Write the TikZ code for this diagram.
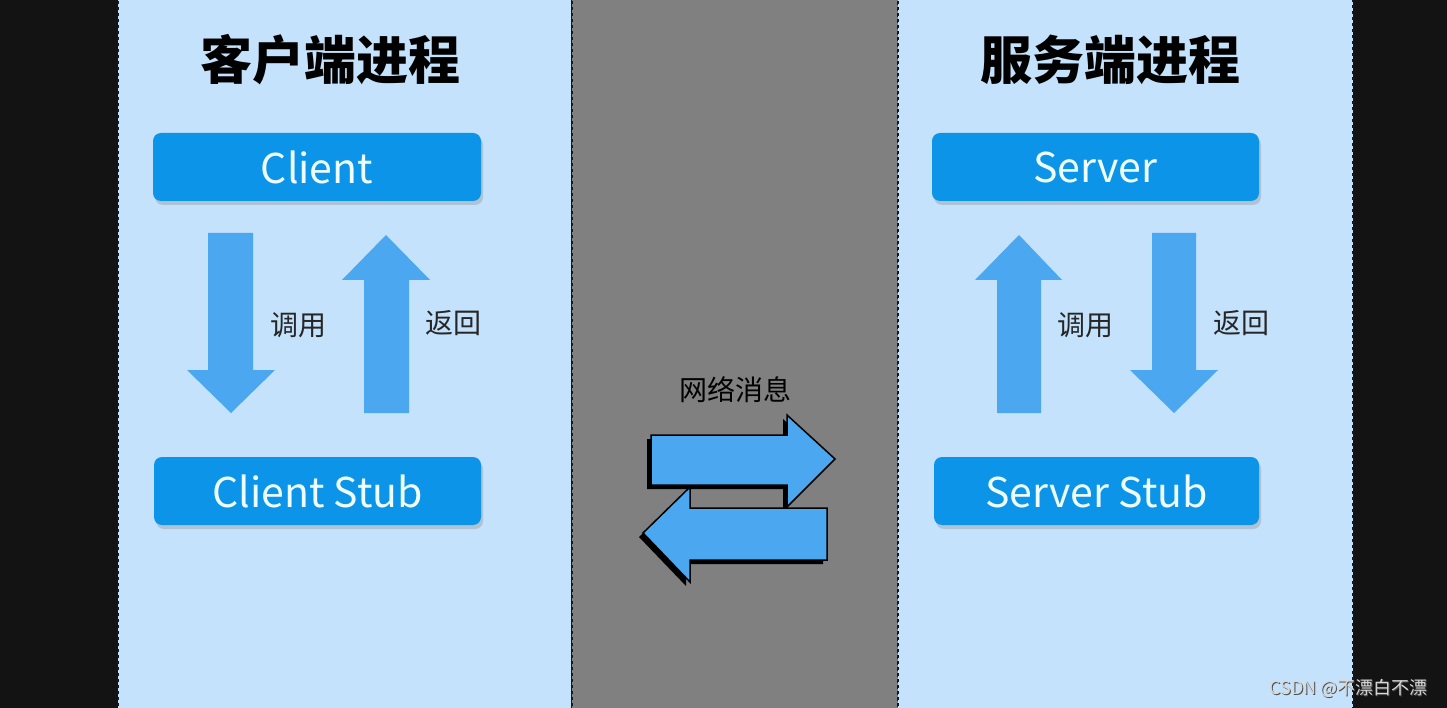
\documentclass[tikz,border=0pt]{standalone}
\usepackage{fontspec}
\setmainfont{Noto Sans CJK SC}
\definecolor{bgblack}{HTML}{131313}
\definecolor{panelblue}{HTML}{C4E2FB}
\definecolor{midgray}{HTML}{808080}
\definecolor{boxblue}{HTML}{0B94E8}
\definecolor{arrowblue}{HTML}{4AA7F0}
\definecolor{boxtext}{HTML}{EFFFFF}
\definecolor{wmark}{HTML}{D8D8D8}
\tikzset{
  panel/.style={draw=black!90, dashed, line width=1.6pt},
  procbox/.style={rectangle, rounded corners=8pt, fill=boxblue, text=boxtext,
    minimum width=328pt, minimum height=68pt, inner sep=0pt,
    font=\fontsize{41}{41}\selectfont},
  boxshadow/.style={fill=black!45, opacity=0.35, rounded corners=8pt},
  title/.style={font=\fontsize{52}{52}\selectfont\bfseries, text=black},
  lbl/.style={font=\fontsize{28}{28}\selectfont, text=black!85},
  fatarrow/.style={fill=arrowblue},
  netarrow/.style={fill=arrowblue, draw=black, line width=1.5pt, line join=miter},
  netshadow/.style={fill=black},
  wmtext/.style={font=\fontsize{18}{18}\selectfont, anchor=east},
}
\begin{document}
\begin{tikzpicture}[x=1pt, y=-1pt]
\useasboundingbox (0,0) rectangle (1447,708);
\fill[bgblack] (0,0) rectangle (1447,708);
% panels
\filldraw[fill=panelblue, panel] (118,-5) rectangle (572,713);
\filldraw[fill=midgray, panel] (572,-5) rectangle (898,713);
\filldraw[fill=panelblue, panel] (898,-5) rectangle (1353,713);

% titles
\node[title] (ctitle) at (330,60) {客户端进程};
\node[title] (stitle) at (1110,60) {服务端进程};

% box shadows
\fill[boxshadow] (155,137) rectangle (483,205);
\fill[boxshadow] (156,461) rectangle (483,529);
\fill[boxshadow] (934,137) rectangle (1261,205);
\fill[boxshadow] (936,461) rectangle (1261,529);

% boxes
\node[procbox] (client) at (317,167) {Client};
\node[procbox, minimum width=327pt] (cstub) at (317.5,491) {Client Stub};
\node[procbox, minimum width=327pt] (server) at (1095.5,167) {Server};
\node[procbox, minimum width=325pt] (sstub) at (1096.5,491) {Server Stub};

% left arrows
\fill[fatarrow] (208,233)--(253,233)--(253,370)--(275,370)--(231,413)--(187,370)--(208,370)--cycle;
\fill[fatarrow] (364,413)--(409,413)--(409,280)--(430,280)--(386,235)--(342,280)--(364,280)--cycle;
\node[lbl] (lcall) at (298,325) {调用};
\node[lbl] (lret) at (453,323) {返回};

% right arrows
\fill[fatarrow] (997,413)--(1041,413)--(1041,280)--(1062,280)--(1019,235)--(975,280)--(997,280)--cycle;
\fill[fatarrow] (1152,233)--(1196,233)--(1196,370)--(1218,370)--(1174,413)--(1130,370)--(1152,370)--cycle;
\node[lbl] (rcall) at (1085,325) {调用};
\node[lbl] (rret) at (1241,323) {返回};

% network
\node[lbl, text=black] (net) at (735,390) {网络消息};
\begin{scope}[shift={(-4,4)}]
\fill[netshadow] (651,435)--(787,435)--(787,415)--(835,459)--(787,507)--(787,485)--(651,485)--cycle;
\fill[netshadow] (827,508)--(690,508)--(690,487)--(643,533)--(690,582)--(690,560)--(827,560)--cycle;
\end{scope}
\filldraw[netarrow] (651,435)--(787,435)--(787,415)--(835,459)--(787,507)--(787,485)--(651,485)--cycle;
\filldraw[netarrow] (827,508)--(690,508)--(690,487)--(643,533)--(690,582)--(690,560)--(827,560)--cycle;

% watermark
\node[wmtext, text=black!70] (wmshadow) at (1432.2,689.2) {CSDN @不漂白不漂};
\node[wmtext, text=wmark] (wm) at (1431,688) {CSDN @不漂白不漂};
\end{tikzpicture}
\end{document}
